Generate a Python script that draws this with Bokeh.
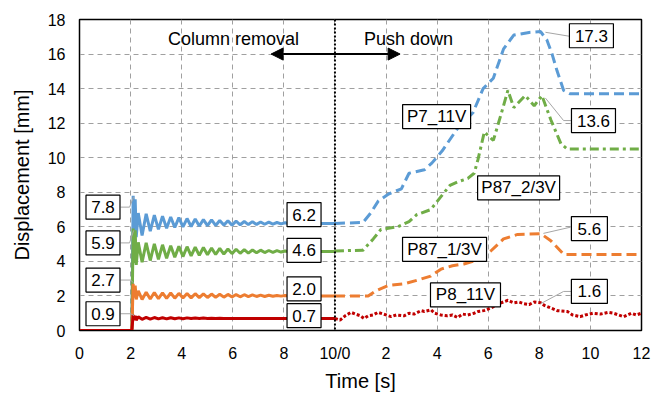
from bokeh.plotting import figure
from bokeh.models import FixedTicker, Span, Arrow, NormalHead, Range1d
from bokeh.core.properties import value
from bokeh.embed import file_html
from bokeh.resources import INLINE

FONT = "Liberation Sans"

# ---------------- data ----------------
x_ticks = [0, 2, 4, 6, 8, 10, 12, 14, 16, 18, 20, 22]
x_tick_labels = ["0", "2", "4", "6", "8", "10/0", "2", "4", "6", "8", "10", "12"]
y_ticks = [0, 2, 4, 6, 8, 10, 12, 14, 16, 18]

# phase 1: column removal (0-10 s)
t1 = [0, 2.05, 2.1, 2.14, 2.18, 2.22, 2.3, 2.45,
      2.61, 2.77, 2.93, 3.09, 3.25, 3.41, 3.57, 3.73, 3.89, 4.05,
      4.21, 4.37, 4.53, 4.69, 4.85, 5.01, 5.17, 5.33, 5.49, 5.65,
      5.81, 5.97, 6.13, 6.29, 6.45, 6.61, 6.77, 6.93, 7.09, 7.25,
      7.41, 7.57, 7.73, 7.89, 8.05, 8.21, 8.37, 8.53, 10]
blue1 = [0, 0, 7.8, 5.7, 7.6, 5.4, 6.8, 5.5,
         6.75, 5.75, 6.68, 5.85, 6.62, 5.92, 6.57, 5.96, 6.53, 6.00,
         6.48, 6.02, 6.45, 6.05, 6.42, 6.07, 6.40, 6.08, 6.37, 6.10,
         6.35, 6.10, 6.33, 6.12, 6.31, 6.13, 6.30, 6.14, 6.28, 6.15,
         6.27, 6.16, 6.25, 6.17, 6.24, 6.18, 6.22, 6.20, 6.20]
green1 = [0, 0, 5.9, 3.9, 5.8, 3.8, 5.1, 3.95,
          5.08, 4.05, 5.02, 4.12, 4.96, 4.18, 4.91, 4.24, 4.87, 4.28,
          4.85, 4.32, 4.82, 4.35, 4.80, 4.38, 4.77, 4.40, 4.75, 4.42,
          4.72, 4.45, 4.70, 4.47, 4.68, 4.48, 4.66, 4.50, 4.65, 4.51,
          4.63, 4.52, 4.62, 4.54, 4.60, 4.55, 4.59, 4.57, 4.57]
orange1 = [0, 0, 2.7, 1.9, 2.6, 1.8, 2.3, 1.8,
           2.22, 1.82, 2.20, 1.84, 2.18, 1.86, 2.17, 1.87, 2.15, 1.88,
           2.14, 1.89, 2.13, 1.90, 2.12, 1.91, 2.11, 1.92, 2.10, 1.93,
           2.09, 1.94, 2.08, 1.95, 2.07, 1.96, 2.06, 1.97, 2.05, 1.97,
           2.04, 1.98, 2.03, 1.99, 2.02, 1.99, 2.01, 2.00, 2.00]
red1 = [0, 0, 0.9, 0.6, 0.85, 0.6, 0.8, 0.65,
        0.76, 0.66, 0.75, 0.67, 0.74, 0.67, 0.74, 0.68, 0.73, 0.68,
        0.73, 0.69, 0.72, 0.69, 0.72, 0.70, 0.71, 0.70, 0.71, 0.70,
        0.70, 0.70, 0.70, 0.70, 0.70, 0.70, 0.70, 0.70, 0.70, 0.70,
        0.70, 0.70, 0.70, 0.70, 0.70, 0.70, 0.70, 0.70, 0.70]

# phase 2: push down (local time 0-12 s, plotted after 10 s offset)
phase2_offset = 10
t2_blue = [0, 1.1, 1.4, 1.7, 2.1, 2.6, 2.9, 3.5, 3.8, 4.2, 4.8, 5.4, 5.8, 6.2,
           6.6, 7.0, 7.6, 8.05, 8.3, 8.5, 8.7, 8.95, 9.2, 12]
blue2 = [6.2, 6.25, 6.8, 7.5, 7.9, 8.2, 9.1, 9.3, 9.7, 10.4, 11.7, 12.6, 14.0, 14.6,
         16.3, 17.1, 17.25, 17.3, 16.8, 16.0, 15.0, 13.9, 13.7, 13.7]
t2_green = [0, 1.1, 1.5, 1.8, 2.45, 2.9, 3.2, 3.75, 4.15, 4.5, 4.8, 5.2, 5.45, 5.6,
            5.85, 6.05, 6.2, 6.5, 6.77, 7.0, 7.45, 7.8, 8.1, 8.45, 8.85, 9.1, 12]
green2 = [4.6, 4.65, 5.3, 5.85, 6.0, 6.3, 6.7, 7.0, 7.75, 8.4, 8.6, 8.8, 9.1, 9.9,
          11.5, 11.2, 11.0, 12.5, 13.9, 12.9, 13.6, 13.0, 13.6, 12.2, 10.8, 10.5, 10.5]
t2_orange = [0, 1.3, 1.6, 2.07, 2.7, 3.2, 3.75, 4.15, 4.6, 5.05, 5.4, 5.8, 6.1, 6.6,
             7.15, 8.06, 8.45, 8.96, 12]
orange2 = [2.0, 2.0, 2.3, 2.6, 2.7, 2.9, 3.15, 3.55, 3.75, 3.85, 4.0, 4.3, 4.6, 5.3,
           5.56, 5.6, 5.2, 4.4, 4.4]
t2_red = [0, 0.2, 0.4, 0.63, 0.8, 1.0, 1.14, 1.3, 1.5, 1.68, 1.9, 2.2, 2.4, 2.7, 2.9,
          3.1, 3.37, 3.5, 3.76, 3.9, 4.15, 4.4, 4.6, 4.8, 5.0, 5.2, 5.45, 5.6, 5.83,
          6.1, 6.3, 6.5, 6.77, 7.0, 7.2, 7.4, 7.6, 7.8, 8.06, 8.2, 8.45, 8.7, 9.1,
          9.3, 9.6, 9.8, 10.1, 10.4, 10.7, 10.9, 11.1, 11.3, 11.6, 11.8, 12]
red2 = [0.7, 0.6, 0.85, 1.05, 0.95, 0.85, 0.7, 0.85, 0.9, 1.05, 0.95, 0.8, 0.9, 0.85,
        1.0, 0.95, 1.15, 1.1, 1.2, 1.0, 0.9, 0.85, 0.9, 0.75, 0.95, 0.9, 1.0, 1.1,
        1.15, 1.3, 1.45, 1.6, 1.75, 1.6, 1.65, 1.55, 1.5, 1.65, 1.6, 1.45, 1.3, 1.15,
        1.1, 0.9, 0.8, 0.9, 1.0, 0.95, 1.05, 1.0, 0.9, 0.8, 1.0, 0.9, 1.0]

# annotation texts
value_labels = ["7.8", "5.9", "2.7", "0.9", "6.2", "4.6", "2.0", "0.7",
                "17.3", "13.6", "5.6", "1.6"]
series_labels = ["P7_11V", "P87_2/3V", "P87_1/3V", "P8_11V"]
phase_labels = ["Column removal", "Push down"]

# ---------------- layout of annotations ----------------
value_box_x = [0.92, 0.92, 0.92, 0.92, 8.79, 8.79, 8.79, 8.79, 20.04, 20.12, 19.96, 19.96]
value_box_y = [7.14, 5.07, 2.92, 0.97, 6.71, 4.64, 2.41, 0.86, 17.06, 12.15, 5.90, 2.26]
value_box_w = [34, 34, 34, 34, 34, 34, 34, 34, 44, 44, 36, 36]
series_box_x = [13.98, 17.19, 14.29, 15.11]
series_box_y = [12.38, 8.26, 4.70, 2.06]
series_box_w = [68, 82, 84, 70]
box_h = 24

leader_xs = [[1.61, 1.96, 2.12], [1.61, 1.96, 2.12], [1.61, 2.0, 2.12], [1.61, 2.0, 2.14],
             [18.24, 19.18], [18.24, 18.95, 19.3], [18.16, 19.22], [18.05, 18.95, 19.3]]
leader_ys = [[7.14, 7.14, 7.74], [5.07, 5.07, 5.79], [2.92, 2.92, 2.75], [0.97, 0.97, 0.86],
             [17.26, 17.03], [13.45, 12.15, 12.15], [5.62, 5.98], [1.55, 2.26, 2.26]]

BLUE, GREEN, ORANGE, RED = "#5B9BD5", "#70AD47", "#ED7D31", "#C00000"

p = figure(width=654, height=394, output_backend="svg", toolbar_location=None,
           x_range=Range1d(0, 22), y_range=Range1d(0, 18),
           min_border_left=79, min_border_right=13, min_border_top=19, min_border_bottom=62)
p.background_fill_color = "white"
p.border_fill_color = "white"
p.outline_line_color = "black"
p.outline_line_width = 1.5

for ax in (p.xaxis[0], p.yaxis[0]):
    ax.major_tick_line_color = None
    ax.minor_tick_line_color = None
    ax.axis_line_color = "black"
    ax.major_label_text_font = FONT
    ax.major_label_text_font_size = "16px"
    ax.major_label_text_color = "black"
    ax.axis_label_text_font = FONT
    ax.axis_label_text_font_size = "20px"
    ax.axis_label_text_font_style = "normal"
    ax.axis_label_text_color = "black"

p.xaxis.ticker = FixedTicker(ticks=x_ticks)
p.xaxis.major_label_overrides = {t: l for t, l in zip(x_ticks, x_tick_labels)}
p.yaxis.ticker = FixedTicker(ticks=y_ticks)
p.xaxis.axis_label = "Time [s]"
p.yaxis.axis_label = "Displacement [mm]"
p.xaxis.major_label_standoff = 8
p.yaxis.major_label_standoff = 8
p.xaxis.axis_label_standoff = 5
p.yaxis.axis_label_standoff = 12

for g in (p.xgrid[0], p.ygrid[0]):
    g.grid_line_color = "#A0A0A0"
    g.grid_line_dash = "5 4"
    g.grid_line_width = 1

# phase 1 solid lines
for vals, col in ((blue1, BLUE), (green1, GREEN), (orange1, ORANGE), (red1, RED)):
    p.line(t1, vals, line_color=col, line_width=3)

# phase 2 dashed lines
def shift(ts):
    return [phase2_offset + t for t in ts]

p.line(shift(t2_blue), blue2, line_color=BLUE, line_width=3, line_dash="10 5")
p.line(shift(t2_green), green2, line_color=GREEN, line_width=3, line_dash="9 4 3 4")
p.line(shift(t2_orange), orange2, line_color=ORANGE, line_width=3, line_dash="10 5")
p.line(shift(t2_red), red2, line_color=RED, line_width=3, line_dash="3 2")

# phase divider
p.add_layout(Span(location=phase2_offset, dimension="height", line_color="black",
                  line_width=2, line_dash="2 2"))

# phase arrows
p.add_layout(Arrow(end=NormalHead(size=12, fill_color="black", line_color="black"),
                   x_start=10, y_start=16, x_end=7.5, y_end=16, line_width=2))
p.add_layout(Arrow(end=NormalHead(size=12, fill_color="black", line_color="black"),
                   x_start=10, y_start=16, x_end=12.55, y_end=16, line_width=2))
p.text(x=[6.03, 12.88], y=[16.88, 16.88], text=phase_labels, text_font=value(FONT),
       text_font_size="18px", text_align="center", text_baseline="middle", text_color="black")

# leader lines
p.multi_line(leader_xs, leader_ys, line_color="#A6A6A6", line_width=1)

# boxes and texts
p.rect(x=value_box_x, y=value_box_y, width=value_box_w, height=[box_h] * len(value_box_x),
       width_units="screen", height_units="screen", fill_color="white",
       line_color="black", line_width=1.2)
p.text(x=value_box_x, y=value_box_y, text=value_labels, text_font=value(FONT),
       text_font_size="17px", text_align="center", text_baseline="middle", text_color="black")
p.rect(x=series_box_x, y=series_box_y, width=series_box_w, height=[box_h] * len(series_box_x),
       width_units="screen", height_units="screen", fill_color="white",
       line_color="black", line_width=1.2)
p.text(x=series_box_x, y=series_box_y, text=series_labels, text_font=value(FONT),
       text_font_size="17px", text_align="center", text_baseline="middle", text_color="black")

open("out.html", "w").write(file_html(p, INLINE))
